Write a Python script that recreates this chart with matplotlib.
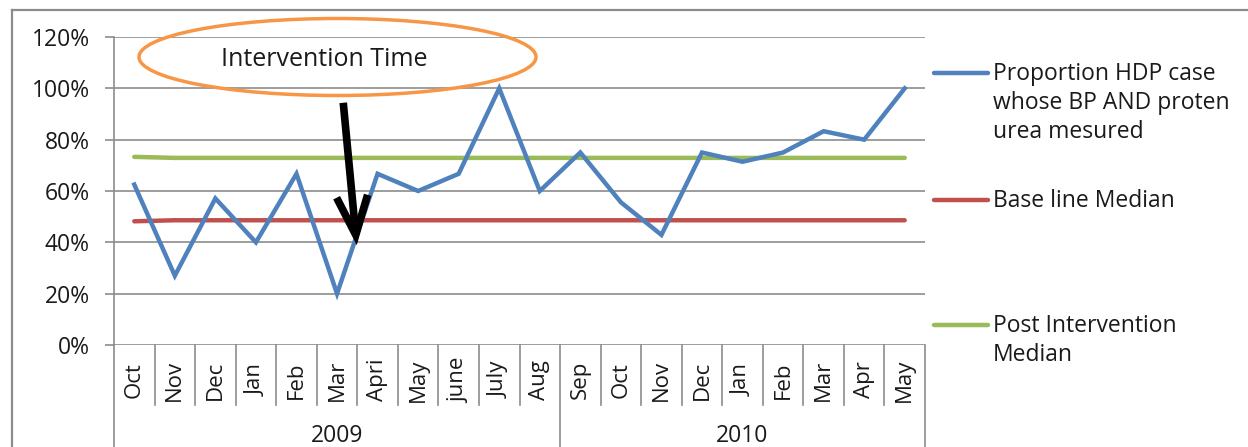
import matplotlib
matplotlib.use("Agg")
import matplotlib.pyplot as plt
from matplotlib.patches import Ellipse, FancyArrowPatch
from matplotlib.lines import Line2D
from matplotlib.ticker import FuncFormatter, MultipleLocator

plt.rcParams['font.family'] = ['Open Sans', 'DejaVu Sans']

months = ["Oct", "Nov", "Dec", "Jan", "Feb", "Mar", "Apri", "May", "june", "July", "Aug",
          "Sep", "Oct", "Nov", "Dec", "Jan", "Feb", "Mar", "Apr", "May"]
years = ["2009", "2010"]
year_counts = [11, 9]

proportion = [0.625, 0.27, 0.571, 0.40, 0.667, 0.20, 0.667, 0.60, 0.667, 1.00, 0.60,
              0.75, 0.556, 0.429, 0.75, 0.714, 0.75, 0.833, 0.80, 1.00]
baseline_median = [0.482] + [0.486] * 19
post_median = [0.733] + [0.729] * 19

series_names = ["Proportion HDP case\nwhose BP AND proten\nurea mesured",
                "Base line Median",
                "Post Intervention\nMedian"]
colors = ["#4F81BD", "#C0504D", "#9BBB59"]

W, H = 1248, 447
fig = plt.figure(figsize=(W / 100, H / 100), dpi=100)

def fx(px):
    return px / W

def fy(py):
    return 1 - py / H

TXT = '#1a1a1a'
FS = 16.5

ax_l, ax_r, ax_t, ax_b = 114, 925, 37, 345
ax = fig.add_axes([fx(ax_l), fy(ax_b), (ax_r - ax_l) / W, (ax_b - ax_t) / H])

x = list(range(len(months)))
ax.plot(x, proportion, color=colors[0], lw=3.2, solid_joinstyle='miter', zorder=3)
ax.plot(x, baseline_median, color=colors[1], lw=3.2, solid_capstyle='round', zorder=2)
ax.plot(x, post_median, color=colors[2], lw=3.2, solid_capstyle='round', zorder=2)

ax.set_xlim(-0.5, len(months) - 0.5)
ax.set_ylim(0, 1.2)
ax.yaxis.set_major_locator(MultipleLocator(0.2))
ax.yaxis.set_major_formatter(FuncFormatter(lambda v, p: f"{v*100:.0f}%"))
ax.grid(axis='y', color='#8C8C8C', lw=1.2)
ax.set_axisbelow(True)
for s in ['top', 'right', 'bottom']:
    ax.spines[s].set_visible(False)
ax.spines['left'].set_color('#8C8C8C')
ax.spines['left'].set_linewidth(1.2)
ax.tick_params(axis='y', direction='out', length=6.5, width=1.2, color='#8C8C8C',
               labelsize=FS, pad=11, labelcolor=TXT)
ax.set_xticks([])

tr = ax.get_xaxis_transform()
ax_h = ax_b - ax_t
def ay(py):
    return (ax_b - py) / ax_h

# category separators
sep_col = '#8C8C8C'
bounds = [i - 0.5 for i in range(len(months) + 1)]
year_bounds = [-0.5]
acc = -0.5
for c in year_counts:
    acc += c
    year_bounds.append(acc)
for b in bounds:
    y_end = ay(H + 5) if b in year_bounds else ay(405)
    ax.plot([b, b], [0, y_end], color=sep_col, lw=1.2, transform=tr, clip_on=False)

for i, m in enumerate(months):
    ax.text(i, ay(380), m, transform=tr, rotation=90, ha='center', va='center',
            rotation_mode='anchor', fontsize=FS - 0.5, color=TXT)

for k, yname in enumerate(years):
    cx = (year_bounds[k] + year_bounds[k + 1]) / 2
    ax.text(cx, ay(436), yname, transform=tr, ha='center', va='center',
            fontsize=FS, color=TXT)

# outer chart frame
fig.add_artist(Line2D([fx(12), fx(W + 5)], [fy(10), fy(10)], color='#8C8C8C', lw=1.6))
fig.add_artist(Line2D([fx(12), fx(12)], [fy(10), fy(H + 5)], color='#8C8C8C', lw=1.6))

# legend (manual, Excel-like)
leg_y = [73, 200, 325]
for name, c, ly in zip(series_names, colors, leg_y):
    fig.add_artist(Line2D([fx(934), fx(988)], [fy(ly), fy(ly)], color=c, lw=3.2,
                          solid_capstyle='round'))
    fig.text(fx(993), fy(ly - 11), name, ha='left', va='top', fontsize=FS,
             color=TXT, linespacing=1.28)

# annotation ellipse
fig.add_artist(Ellipse((fx(337.5), fy(57)), 397 / W, 77 / H, transform=fig.transFigure,
                       fill=False, edgecolor='#F79646', lw=2.5))
fig.text(fx(324), fy(59), "Intervention Time", ha='center', va='center', fontsize=18,
         color=TXT)

# arrow
arr = FancyArrowPatch((fx(343), fy(100)), (fx(357), fy(248)), transform=fig.transFigure,
                      arrowstyle='->,head_length=1.0,head_width=0.4', mutation_scale=28,
                      color='black', lw=5.5, capstyle='butt', joinstyle='miter')
fig.add_artist(arr)

fig.savefig("out.png", dpi=100)
